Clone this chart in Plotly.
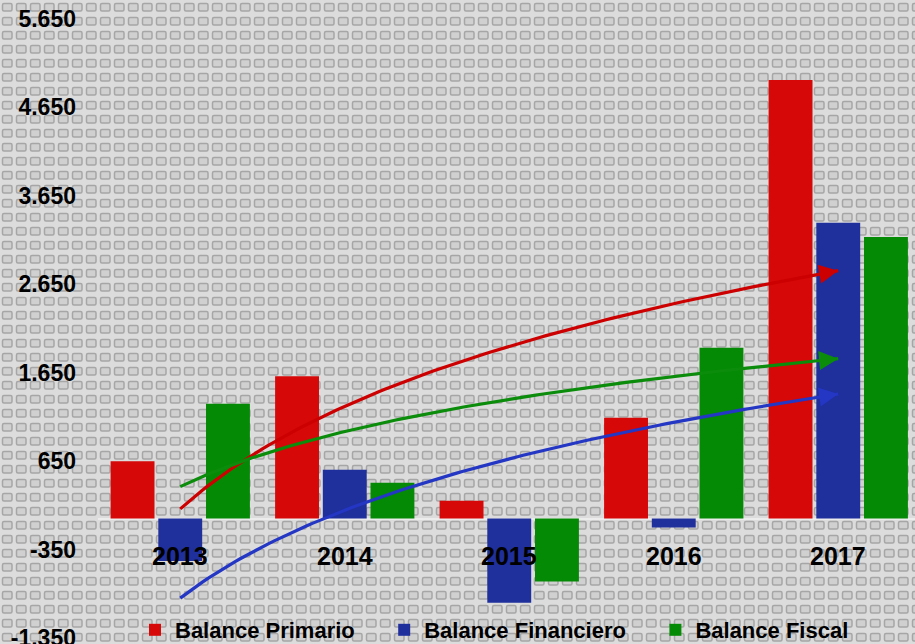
import base64
import numpy as np
import plotly.graph_objects as go

# ---------------- data ----------------
years = ["2013", "2014", "2015", "2016", "2017"]
balance_primario = [650, 1610, 203, 1141, 4960]
balance_financiero = [-480, 554, -950, -100, 3345]
balance_fiscal = [1300, 407, -712, 1932, 3186]
tick_values = [-1350, -350, 650, 1650, 2650, 3650, 4650, 5650]
tick_labels = [f"{v:,}".replace(",", ".") for v in tick_values]

series_names = ["Balance Primario", "Balance Financiero", "Balance Fiscal"]
series_values = [balance_primario, balance_financiero, balance_fiscal]
bar_colors = ["#d60808", "#1f2f9c", "#058a05"]
trend_colors = ["#cc0000", "#2436c4", "#0b8c0b"]

W, H = 915, 644
ML, MR, MT, MB = 98, 0, 19, 6
PW, PH = W - ML - MR, H - MT - MB

x_pos = list(range(1, len(years) + 1))

fig = go.Figure()

pad = "\u00a0" * 4
for name, vals, col in zip(series_names, series_values, bar_colors):
    fig.add_trace(go.Bar(
        x=x_pos, y=vals, name=name + pad,
        marker=dict(color=col, line=dict(width=0)),
    ))

# logarithmic trendlines (as in the spreadsheet chart)
annotations = []
xs = np.linspace(1, len(years), 120)
for vals, col in zip(series_values, trend_colors):
    b, a = np.polyfit(np.log(x_pos), vals, 1)
    ys = a + b * np.log(xs)
    fig.add_trace(go.Scatter(x=xs, y=ys, mode="lines", showlegend=False,
                             hoverinfo="skip",
                             line=dict(color=col, width=3.2)))
    x0 = len(years) - 0.12
    annotations.append(dict(
        x=xs[-1], y=ys[-1], ax=x0, ay=a + b * np.log(x0),
        xref="x", yref="y", axref="x", ayref="y",
        text="", showarrow=True, arrowhead=2, arrowsize=1.2,
        arrowwidth=3.2, arrowcolor=col,
    ))

for xp, yr in zip(x_pos, years):
    annotations.append(dict(
        x=xp, y=0, xref="x", yref="y", text=f"<b>{yr}</b>",
        showarrow=False, yshift=-37, yanchor="middle",
        font=dict(size=25, color="#000000", family="Liberation Sans"),
    ))

# textured background
svg = f"""<svg xmlns='http://www.w3.org/2000/svg' width='{W}' height='{H}'>
<defs><pattern id='p' width='14' height='14' patternUnits='userSpaceOnUse'>
<rect width='14' height='14' fill='#dcdcdc'/>
<rect x='2.5' y='3.5' width='9.5' height='7.5' rx='1.5' fill='#d0d0d0' stroke='#a6a6a6' stroke-width='1.5'/>
</pattern></defs>
<rect width='{W}' height='{H}' fill='url(#p)'/></svg>"""
src = "data:image/svg+xml;base64," + base64.b64encode(svg.encode()).decode()

fig.update_layout(
    width=W, height=H,
    margin=dict(l=ML, r=MR, t=MT, b=MB, pad=0, autoexpand=False),
    paper_bgcolor="#d4d4d4",
    plot_bgcolor="rgba(0,0,0,0)",
    barmode="group", bargap=0.13, bargroupgap=0.08,
    font=dict(family="Liberation Sans", color="#000000", weight="bold"),
    images=[dict(source=src, xref="paper", yref="paper",
                 x=-ML / PW, y=1 + MT / PH, sizex=W / PW, sizey=H / PH,
                 xanchor="left", yanchor="top", sizing="stretch",
                 layer="below")],
    xaxis=dict(range=[0.5, 0.5 + PW / 164.5], showticklabels=False,
               showgrid=False, zeroline=False, showline=False, ticks="",
               automargin=False),
    yaxis=dict(range=[-1350, 5650], tickvals=tick_values, ticktext=tick_labels,
               showgrid=False, zeroline=True, zerolinecolor="#ececec",
               zerolinewidth=2, showline=False, ticks="",
               ticklabelstandoff=21, automargin=False,
               ticklabeloverflow="allow",
               tickfont=dict(size=23, color="#000000", weight="bold")),
    legend=dict(orientation="h", x=(135 - ML) / PW, y=(638 - 630) / PH,
                xanchor="left", yanchor="middle", bgcolor="rgba(0,0,0,0)",
                font=dict(size=22, color="#000000", weight="bold"),
                traceorder="normal"),
    annotations=annotations,
    showlegend=True,
)

fig.write_html("out.html", config={"displayModeBar": False},
               post_script="document.body.style.margin='0';")
